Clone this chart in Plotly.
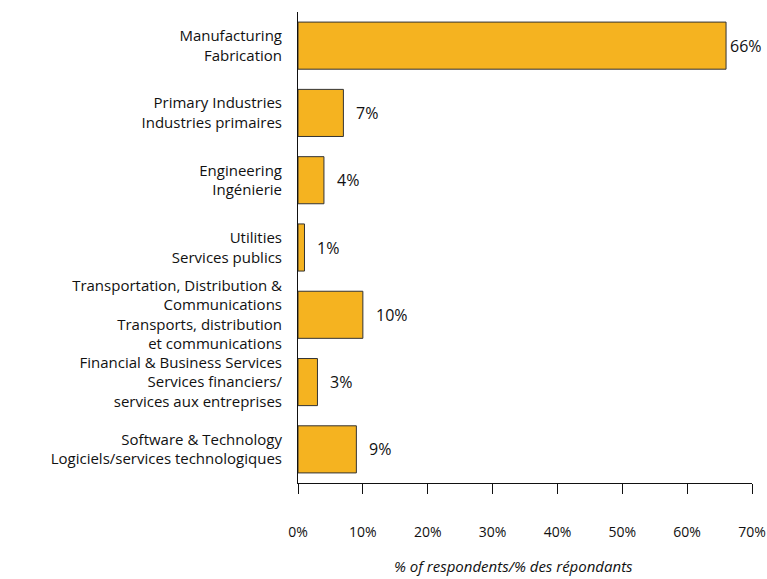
import plotly.graph_objects as go

# Sector labels (English / French) and share of respondents
sectors = [
    "Manufacturing<br>Fabrication",
    "Primary Industries<br>Industries primaires",
    "Engineering<br>Ingénierie",
    "Utilities<br>Services publics",
    "Transportation, Distribution &<br>Communications<br>Transports, distribution<br>et communications",
    "Financial & Business Services<br>Services financiers/<br>services aux entreprises",
    "Software & Technology<br>Logiciels/services technologiques",
]
shares = [66, 7, 4, 1, 10, 3, 9]
x_ticks = [0, 10, 20, 30, 40, 50, 60, 70]
x_tick_labels = [f"{t}%" for t in x_ticks]

FONT = "'Open Sans', Lato, sans-serif"
INK = "#111111"
BAR = "#F5B320"

fig = go.Figure(
    go.Bar(
        x=shares,
        y=sectors,
        orientation="h",
        width=0.7,
        marker=dict(color=BAR, line=dict(color="#333333", width=1)),
        hoverinfo="x+y",
    )
)

# value labels to the right of each bar
for s, v in zip(sectors, shares):
    fig.add_annotation(
        x=v, y=s, xref="x", yref="y",
        text=f"{v}%", showarrow=False,
        xanchor="left", yanchor="middle",
        xshift=11 if v < 60 else 2,
        font=dict(family=FONT, size=16, color=INK),
    )

fig.add_annotation(
    x=0.474, y=0, xref="paper", yref="paper",
    yshift=-83, yanchor="middle",
    text="<i>% of respondents/% des répondants</i>",
    showarrow=False,
    font=dict(family=FONT, size=15, color=INK),
)

fig.update_layout(
    width=767, height=579,
    margin=dict(l=298, r=15, t=12, b=96, autoexpand=False),
    paper_bgcolor="white", plot_bgcolor="white",
    showlegend=False,
    font=dict(family=FONT, size=15, color=INK),
    bargap=0.3,
)

fig.update_xaxes(
    range=[0, 70],
    tickvals=x_ticks, ticktext=x_tick_labels,
    showgrid=False, zeroline=False,
    showline=True, linecolor=INK, linewidth=1,
    ticks="outside", ticklen=10, tickcolor=INK, tickwidth=1,
    ticklabelstandoff=26, automargin=False,
    tickfont=dict(family=FONT, size=14, color=INK),
)
fig.update_yaxes(
    categoryorder="array", categoryarray=sectors,
    autorange="reversed",
    range=[6.5, -0.5],
    showgrid=False, zeroline=False,
    showline=True, linecolor=INK, linewidth=1,
    ticks="", ticklabelstandoff=12, automargin=False,
    tickfont=dict(family=FONT, size=15, color=INK),
)

fig.write_html("out.html")
